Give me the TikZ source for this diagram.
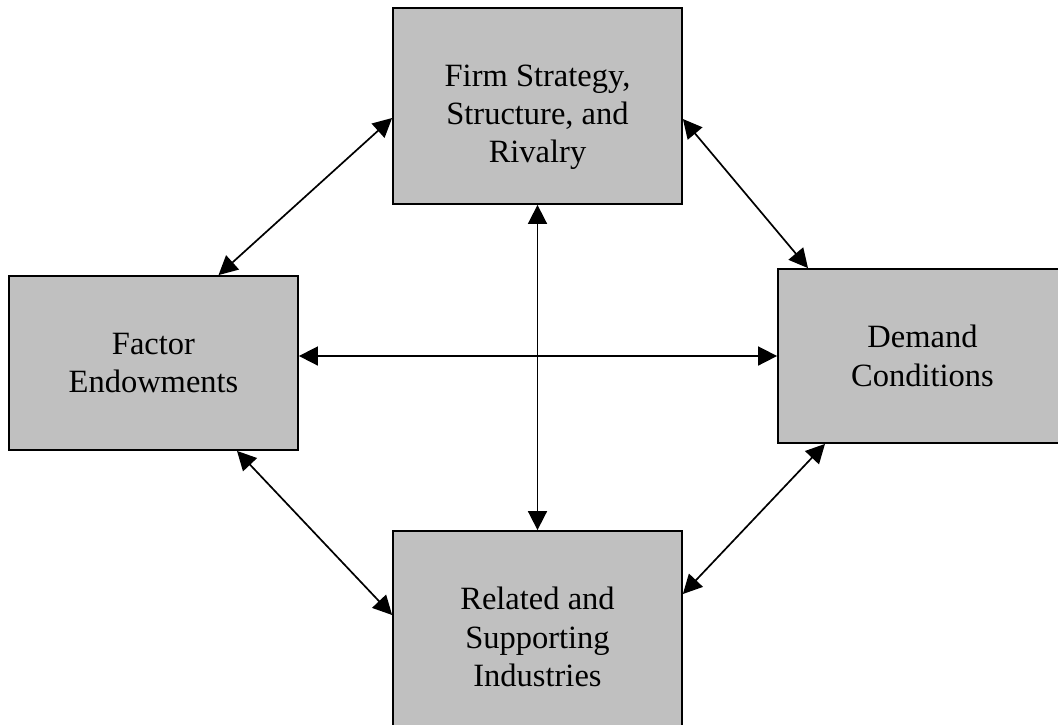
\documentclass[tikz,border=0pt]{standalone}
\usepackage{fontspec}
\setmainfont{Liberation Serif}
\usetikzlibrary{arrows.meta,calc,positioning}
\definecolor{boxgray}{HTML}{C0C0C0}
\begin{document}
\begin{tikzpicture}[x=1pt,y=-1pt,>={Triangle[length=19pt,width=19pt]},
  block/.style = {draw, fill = boxgray, line width = 1.8pt, minimum width = 289pt, align = center, font = \fontsize{32.5}{38.5}\selectfont},
  link/.style = {<->, line width = 1.7pt}]
\useasboundingbox (0,0) rectangle (1058,724);
\clip (0,0) rectangle (1058,724);
\node (firm) at (537.5,106)[block, minimum height = 196pt] {\rule{0pt}{44pt}Firm Strategy,\\Structure, and\\Rivalry};
\node (factor) at (153.5,363)[block, minimum height = 174pt] {Factor\\Endowments};
\node (demand) at (922.5,356)[block, minimum height = 174pt] {Demand\\Conditions};
\node (related) at (537.5,637)[block, minimum height = 212pt] {Related and\\Supporting\\Industries};
\draw[link] ([yshift=-12pt]firm.west)--([xshift=65pt]factor.north);
\draw[link] ([yshift=-13pt]firm.east)--([xshift=-114.5pt]demand.north);
\draw[link] ([xshift=83.5pt]factor.south)--([yshift=22pt]related.west);
\draw[link] ([xshift=-97.5pt]demand.south)--([yshift=43pt]related.east);
\draw[link] (demand.west -| factor.east)--(demand.west);
\draw[link] (firm.south)--(related.north);
\end{tikzpicture}
\end{document}
